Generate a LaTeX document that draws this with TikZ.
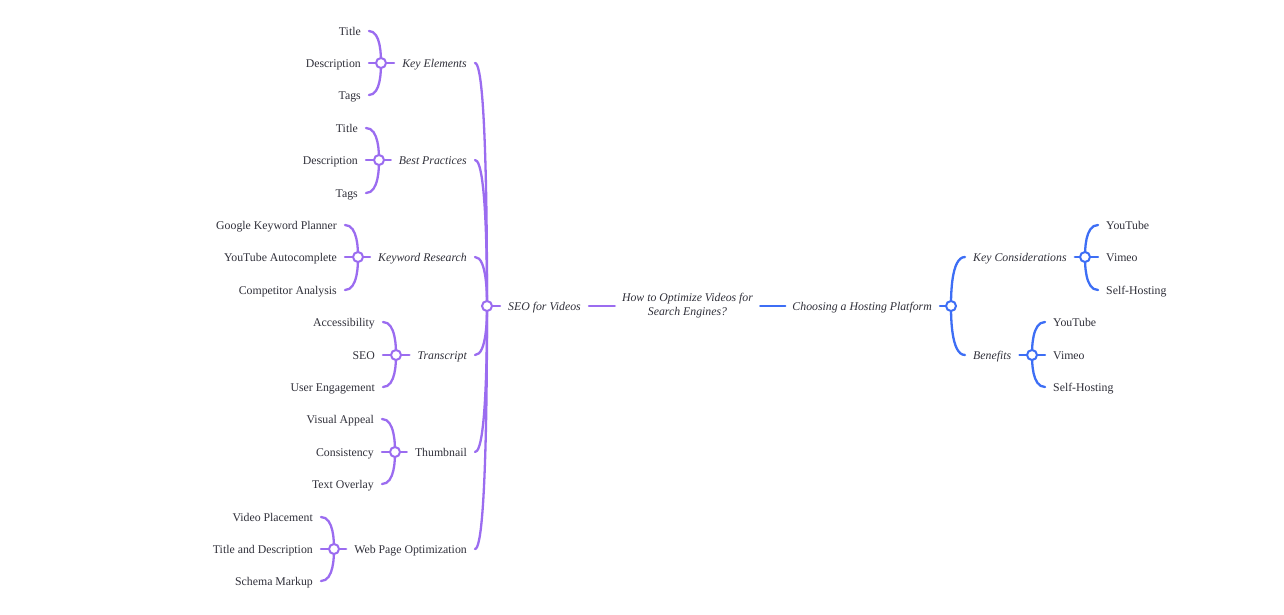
\documentclass[tikz,border=0pt]{standalone}
\usepackage{fontspec}
\setmainfont{Liberation Serif}
\usetikzlibrary{calc,backgrounds}
\definecolor{pur}{HTML}{9B6CF0}
\definecolor{blu}{HTML}{3D6EF5}
\definecolor{txt}{HTML}{30303A}
\newcommand{\lkL}[2]{\draw let \p1=(#1.center), \p2=($(#2.base east)+(8,-4)$) in (\p2) .. controls (\x1,\y2) and (\x1,{0.8*\y1+0.2*\y2}) .. (\p1);}
\newcommand{\lkR}[2]{\draw let \p1=(#1.center), \p2=($(#2.base west)+(-8,-4)$) in (\p2) .. controls (\x1,\y2) and (\x1,{0.8*\y1+0.2*\y2}) .. (\p1);}
\tikzset{
  lbl/.style={inner sep=0pt, text=txt, font=\fontsize{11.8}{14}\selectfont},
  ilbl/.style={lbl, font=\fontsize{11.8}{14}\selectfont\itshape},
  le/.style={lbl, anchor=base east},
  lw/.style={lbl, anchor=base west},
  ile/.style={ilbl, anchor=base east},
  ilw/.style={ilbl, anchor=base west},
  jn/.style={circle, minimum size=10pt, inner sep=0pt, fill=white, line width=2pt},
  pj/.style={jn, draw=pur},
  bj/.style={jn, draw=blu},
  pl/.style={draw=pur, line width=2.3pt, line cap=round},
  bl/.style={draw=blu, line width=2.3pt, line cap=round}
}
\begin{document}
\begin{tikzpicture}[x=1pt,y=-1pt]
\useasboundingbox (0,0) rectangle (1284,614);
% root
\node[ilbl, align=center] (root) at (687.5,306) {How to Optimize Videos for\\Search Engines?};
% left main
\node[ilw] (seo) at (508,310) {SEO for Videos};
\node[pj] (j0) at (487,306) {};
\node[ile] (ke) at (467,67) {Key Elements};
\node[ile] (bp) at (467,164) {Best Practices};
\node[ile] (kr) at (467,261) {Keyword Research};
\node[ile] (tr) at (467,359) {Transcript};
\node[le] (th) at (467,456) {Thumbnail};
\node[le] (wp) at (467,553) {Web Page Optimization};
\node[pj] (j1) at (381,63) {};
\node[pj] (j2) at (379,160) {};
\node[pj] (j3) at (358,257) {};
\node[pj] (j4) at (396,355) {};
\node[pj] (j5) at (395,452) {};
\node[pj] (j6) at (334,549) {};
% group 1
\node[le] (a1) at (361,35) {Title};
\node[le] (a2) at (361,67) {Description};
\node[le] (a3) at (361,99) {Tags};
% group 2
\node[le] (b1) at (358,132) {Title};
\node[le] (b2) at (358,164) {Description};
\node[le] (b3) at (358,197) {Tags};
% group 3
\node[le] (c1) at (337,229) {Google Keyword Planner};
\node[le] (c2) at (337,261) {YouTube Autocomplete};
\node[le] (c3) at (337,294) {Competitor Analysis};
% group 4
\node[le] (d1) at (375,326) {Accessibility};
\node[le] (d2) at (375,359) {SEO};
\node[le] (d3) at (375,391) {User Engagement};
% group 5
\node[le] (e1) at (374,423) {Visual Appeal};
\node[le] (e2) at (374,456) {Consistency};
\node[le] (e3) at (374,488) {Text Overlay};
% group 6
\node[le] (f1) at (313,521) {Video Placement};
\node[le] (f2) at (313,553) {Title and Description};
\node[le] (f3) at (313,585) {Schema Markup};
% right
\node[ile] (ch) at (932,310) {Choosing a Hosting Platform};
\node[bj] (jr) at (951,306) {};
\node[ilw] (kc) at (973,261) {Key Considerations};
\node[ilw] (be) at (973,359) {Benefits};
\node[bj] (jk) at (1085,257) {};
\node[bj] (jb) at (1032,355) {};
\node[lw] (k1) at (1106,229) {YouTube};
\node[lw] (k2) at (1106,261) {Vimeo};
\node[lw] (k3) at (1106,294) {Self-Hosting};
\node[lw] (n1) at (1053,326) {YouTube};
\node[lw] (n2) at (1053,359) {Vimeo};
\node[lw] (n3) at (1053,391) {Self-Hosting};
\begin{scope}[on background layer]
\fill[white] (0,0) rectangle (1284,614);
\begin{scope}[pl]
\draw ($(seo.base east)+(8,-4)$) -- ($(root.west)+(-7,0)$);
\draw (j0.center) -- ($(seo.base west)+(-8,-4)$);
\lkL{j0}{ke} \lkL{j0}{bp} \lkL{j0}{kr} \lkL{j0}{tr} \lkL{j0}{th} \lkL{j0}{wp}
\draw (j1.center) -- ($(ke.base west)+(-8,-4)$);
\draw (j2.center) -- ($(bp.base west)+(-8,-4)$);
\draw (j3.center) -- ($(kr.base west)+(-8,-4)$);
\draw (j4.center) -- ($(tr.base west)+(-8,-4)$);
\draw (j5.center) -- ($(th.base west)+(-8,-4)$);
\draw (j6.center) -- ($(wp.base west)+(-8,-4)$);
\lkL{j1}{a1} \lkL{j1}{a2} \lkL{j1}{a3}
\lkL{j2}{b1} \lkL{j2}{b2} \lkL{j2}{b3}
\lkL{j3}{c1} \lkL{j3}{c2} \lkL{j3}{c3}
\lkL{j4}{d1} \lkL{j4}{d2} \lkL{j4}{d3}
\lkL{j5}{e1} \lkL{j5}{e2} \lkL{j5}{e3}
\lkL{j6}{f1} \lkL{j6}{f2} \lkL{j6}{f3}
\end{scope}
\begin{scope}[bl]
\draw ($(root.east)+(7,0)$) -- ($(ch.base west)+(-7,-4)$);
\draw ($(ch.base east)+(8,-4)$) -- (jr.center);
\lkR{jr}{kc} \lkR{jr}{be}
\draw ($(kc.base east)+(8,-4)$) -- (jk.center);
\draw ($(be.base east)+(8,-4)$) -- (jb.center);
\lkR{jk}{k1} \lkR{jk}{k2} \lkR{jk}{k3}
\lkR{jb}{n1} \lkR{jb}{n2} \lkR{jb}{n3}
\end{scope}
\end{scope}
\end{tikzpicture}
\end{document}
